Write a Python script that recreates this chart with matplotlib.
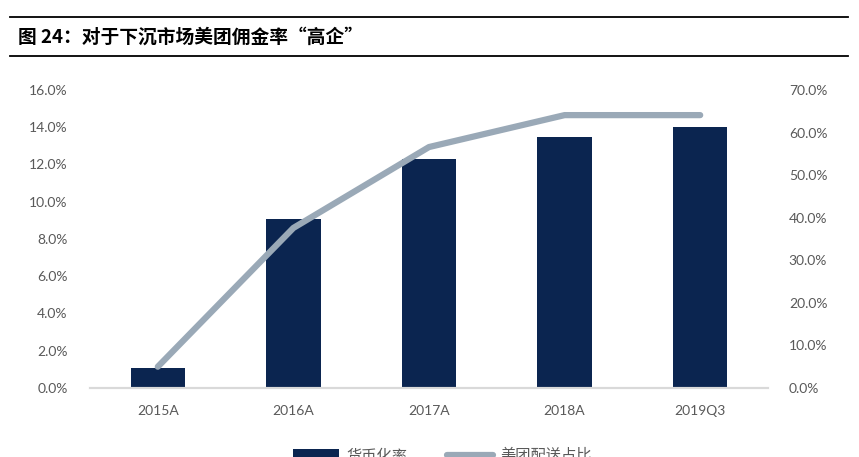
import matplotlib as mpl
mpl.use('Agg')

import matplotlib.pyplot as plt
import numpy as np
from matplotlib.ticker import FuncFormatter

plt.rcParams['font.family'] = ['Lato', 'Noto Sans CJK SC', 'DejaVu Sans']

# data
years = ['2015A', '2016A', '2017A', '2018A', '2019Q3']
monetization = [1.1, 9.1, 12.3, 13.5, 14.0]      # 货币化率 (%)
delivery_share = [5.0, 37.6, 56.6, 64.1, 64.1]   # 美团配送占比 (%)

bar_color = '#0B2550'
line_color = '#9AA9B7'
txt_color = '#595959'

fig = plt.figure(figsize=(8.59, 4.57), dpi=100)
ax = fig.add_axes([90 / 859, 69 / 457, 678 / 859, 298 / 457])
ax2 = ax.twinx()

x = np.arange(len(years))
bars = ax.bar(x, monetization, width=0.4, color=bar_color, label='货币化率', zorder=2)
ln, = ax2.plot(x, delivery_share, color=line_color, lw=4.5, solid_capstyle='round',
               label='美团配送占比', zorder=3)
ax.set_zorder(1)
ax2.set_zorder(2)

ax.set_xlim(-0.5, len(years) - 0.5)
ax.set_ylim(0, 16)
ax2.set_ylim(0, 70)
ax.set_yticks(np.arange(0, 16.1, 2))
ax2.set_yticks(np.arange(0, 70.1, 10))
ax.yaxis.set_major_formatter(FuncFormatter(lambda v, p: '%.1f%%' % v))
ax2.yaxis.set_major_formatter(FuncFormatter(lambda v, p: '%.1f%%' % v))
ax.set_xticks(x)
ax.set_xticklabels(years)

for a in (ax, ax2):
    for s in ('top', 'left', 'right'):
        a.spines[s].set_visible(False)
    a.spines['bottom'].set_color('#D9D9D9')
    a.spines['bottom'].set_linewidth(1.5)
    a.tick_params(length=0, labelsize=10, labelcolor=txt_color)
ax.tick_params(axis='y', pad=16)
ax2.tick_params(axis='y', pad=15)
ax.tick_params(axis='x', pad=12)

# legend
fig.legend([bars, ln], ['货币化率', '美团配送占比'], loc='center', ncol=2,
           bbox_to_anchor=(0.515, 0.003), frameon=False, fontsize=11,
           labelcolor=txt_color, handlelength=3.0, handletextpad=0.5,
           columnspacing=2.6)

# title with rules
fig.add_artist(plt.Line2D([10 / 859, 848 / 859], [1 - 17 / 457, 1 - 17 / 457],
                          color='black', lw=1.3))
fig.add_artist(plt.Line2D([10 / 859, 848 / 859], [1 - 56 / 457, 1 - 56 / 457],
                          color='black', lw=1.3))
fig.text(18 / 859, 1 - 37 / 457, '图 24：对于下沉市场美团佣金率“高企”',
         fontsize=13.5, fontweight='bold', color='black', va='center',
         family=['Noto Sans CJK SC', 'DejaVu Sans'])

fig.savefig('out.png', dpi=100)
